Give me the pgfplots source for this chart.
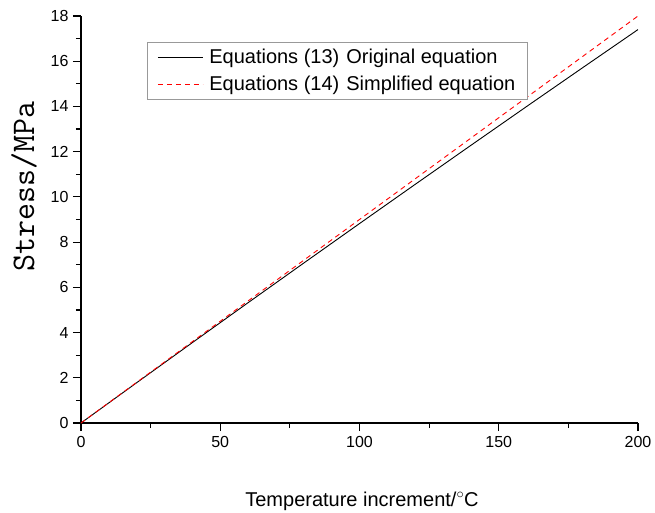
\documentclass[border=0pt]{standalone}
\usepackage{fontspec}
\setmainfont{Liberation Sans}
\usepackage{pgfplots}
\pgfplotsset{compat=1.18}
\begin{document}
\begin{tikzpicture}
\useasboundingbox (-81pt,-89pt) rectangle (574pt,423pt);
\begin{axis}[
  at={(0pt,0pt)}, anchor=south west,
  scale only axis, width=557pt, height=407pt,
  xmin=0, xmax=200, ymin=0, ymax=18,
  axis lines=left,
  axis line style={line width=1.2pt, -},
  xtick={0,50,100,150,200}, ytick={0,2,4,6,8,10,12,14,16,18},
  minor x tick num=1, minor y tick num=1,
  tick align=outside,
  major tick length=8pt, minor tick length=5pt,
  major tick style={line width=1.2pt, black},
  minor tick style={line width=1.2pt, black},
  /pgf/number format/assume math mode=true,
  tick label style={font=\fontsize{16}{18}\selectfont},
  xticklabel style={yshift=-2pt},
  yticklabel style={xshift=-1pt},
  xlabel={Temperature increment/$^\circ$C},
  xlabel style={font=\fontsize{20}{24}\selectfont, at={(axis description cs:0.5045,-0.204)}, anchor=base},
  ylabel={Stress/MPa},
  ylabel style={font=\ttfamily\fontsize{33}{36}\selectfont, at={(axis description cs:-0.1023,0.581)}, anchor=center},
  legend style={at={(axis description cs:0.1185,0.936)}, anchor=north west,
    draw=gray!80, line width=0.8pt, font=\fontsize{20}{24}\selectfont,
    row sep=7pt, inner xsep=10pt, inner ysep=5pt},
  legend cell align=left,
  legend image code/.code={\draw[#1] (0pt,0pt) -- (45pt,0pt); \path (49pt,0pt);},
]
\addplot[black, line width=0.9pt] coordinates {
(0,0) (20,1.783) (40,3.557) (60,5.321) (80,7.075) (100,8.82) (120,10.555) (140,12.28) (160,13.997) (180,15.703) (200,17.4)};
\addlegendentry{Equations (13)\hspace{7pt}Original equation}
\addplot[red, line width=0.9pt, dash pattern=on 5pt off 4pt] coordinates {(0,0) (200,18)};
\addlegendentry{Equations (14)\hspace{7pt}Simplified equation}
\end{axis}
\end{tikzpicture}
\end{document}
